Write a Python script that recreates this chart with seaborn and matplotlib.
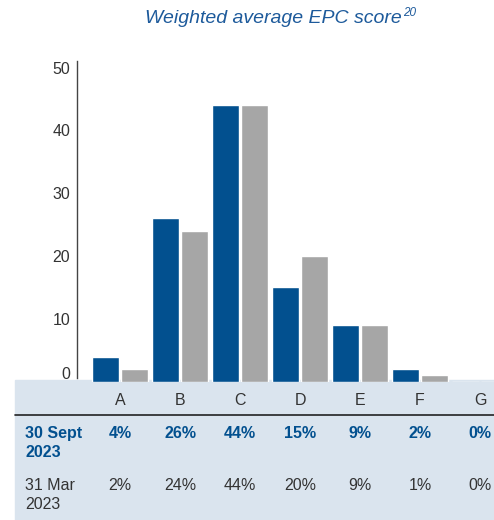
import matplotlib
matplotlib.use("Agg")
import matplotlib.pyplot as plt
import matplotlib.transforms as mtransforms
from matplotlib.patches import Rectangle
import seaborn as sns
import pandas as pd

# data
grades = ["A", "B", "C", "D", "E", "F", "G"]
sept_2023 = [4, 26, 44, 15, 9, 2, 0]
mar_2023 = [2, 24, 44, 20, 9, 1, 0]
periods = ["30 Sept\n2023", "31 Mar\n2023"]
yticks = [0, 10, 20, 30, 40, 50]

BLUE = "#02508f"
GREY = "#a6a6a6"
TITLE_BLUE = "#1d5a9b"
TEXT = "#333333"
TABLE_BG = "#dae4ee"

sns.set_style("white")
plt.rcParams["font.family"] = ["Liberation Sans", "DejaVu Sans"]

df = pd.DataFrame({
    "grade": grades * 2,
    "pct": sept_2023 + mar_2023,
    "period": [periods[0]] * len(grades) + [periods[1]] * len(grades),
})

W, H = 494, 520
fig = plt.figure(figsize=(W / 100, H / 100), dpi=100)
ax = fig.add_axes([77 / W, (H - 381.7) / H, 1 - 77 / W, (381.7 - 61) / H])

# table background behind everything
fig.patches.append(Rectangle((15 / W, 0), 1 - 15 / W, (H - 380) / H,
                             transform=fig.transFigure, color=TABLE_BG, zorder=-1))
fig.add_artist(plt.Line2D([15 / W, 1], [(H - 415) / H] * 2, color="#222222", lw=1.2))

sns.barplot(data=df, x="grade", y="pct", hue="period", hue_order=periods,
            palette=[BLUE, GREY], width=0.98, gap=0.07, saturation=1,
            legend=False, ax=ax)

ax.set_xlim(-43 / 60, (W - 120) / 60)
ax.set_ylim(0, 51.05)
ax.set_yticks(yticks)
ax.set_yticklabels([str(t) for t in yticks])
ax.set_xlabel("")
ax.set_ylabel("")
ax.patch.set_alpha(0)
for s in ["top", "right", "bottom"]:
    ax.spines[s].set_visible(False)
ax.spines["left"].set_color("#444444")
ax.spines["left"].set_linewidth(1)
ax.spines["left"].set_bounds(0.6, 51.05)
ax.tick_params(axis="y", length=0, pad=5, labelsize=11.5, labelcolor=TEXT)
ax.tick_params(axis="x", length=0, pad=8, labelsize=11.5, labelcolor=TEXT)
ax.get_yticklabels()[0].set_va("bottom")

# table rows
tr = mtransforms.blended_transform_factory(ax.transData, fig.transFigure)
row_y = [(H - 426) / H, (H - 478) / H]
row_vals = [sept_2023, mar_2023]
for i, (label, vals) in enumerate(zip(periods, row_vals)):
    bold = i == 0
    col = BLUE if bold else TEXT
    fig.text(25 / W, row_y[i], label, ha="left", va="top", fontsize=11.5,
             fontweight="bold" if bold else "normal", color=col, linespacing=1.35)
    for j, v in enumerate(vals):
        ax.text(j, row_y[i], f"{v}%", transform=tr, ha="center", va="top",
                fontsize=11.5, fontweight="bold" if bold else "normal", color=col)

# title with superscript note
fig.text(402 / W, (H - 23) / H, "Weighted average EPC score", ha="right", va="baseline",
         fontsize=14, style="italic", color=TITLE_BLUE)
fig.text(403 / W, (H - 16) / H, "20", ha="left", va="baseline",
         fontsize=8.5, style="italic", color=TITLE_BLUE)

fig.savefig("out.png", dpi=100)
